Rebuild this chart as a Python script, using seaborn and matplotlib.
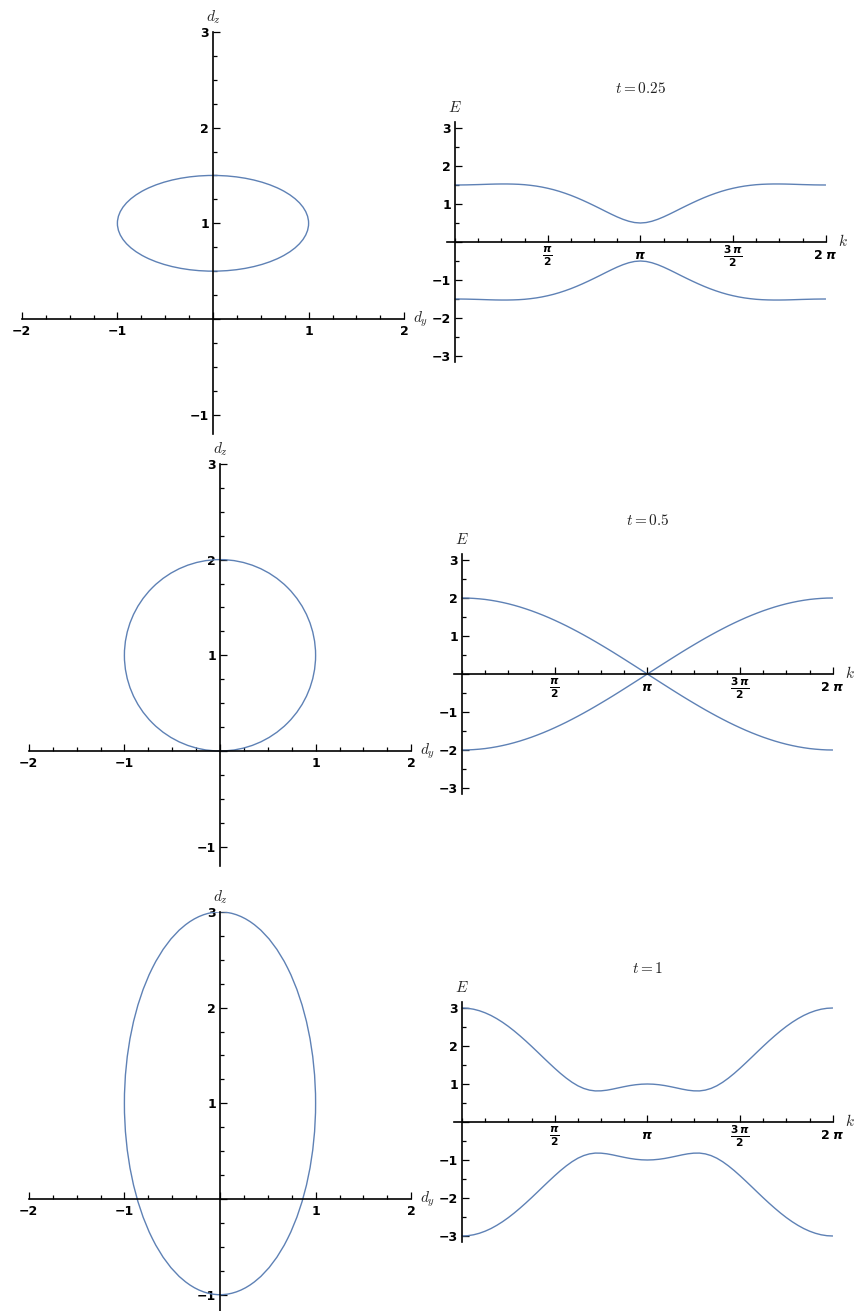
import numpy as np
import matplotlib
matplotlib.use("Agg")
import matplotlib.pyplot as plt
from matplotlib.patches import Ellipse
from matplotlib.ticker import MultipleLocator
import seaborn as sns

sns.set_style("white")
plt.rcParams['font.family'] = ['DejaVu Sans']
plt.rcParams['mathtext.fontset'] = 'dejavusans'

# hopping values shown in the titles
t_values = [0.25, 0.5, 1]

# d-vector loops (ellipses centred on d_z axis)
loop_center_dz = [1.0, 1.0, 1.0]
loop_half_dy = [1.0, 1.0, 1.0]
loop_half_dz = [0.5, 1.0, 2.0]

# upper band energy sampled at k = 0, pi/32, ..., 2 pi (lower band is its mirror)
k_grid = np.linspace(0, 2 * np.pi, 65)
E_t025 = [1.500, 1.501, 1.503, 1.507, 1.511, 1.516, 1.521, 1.525, 1.527,
          1.527, 1.524, 1.518, 1.508, 1.492, 1.472, 1.446, 1.414,
          1.377, 1.333, 1.283, 1.228, 1.167, 1.101, 1.031, 0.958,
          0.883, 0.806, 0.731, 0.660, 0.597, 0.546, 0.512, 0.500,
          0.512, 0.546, 0.597, 0.660, 0.731, 0.806, 0.883, 0.958,
          1.031, 1.101, 1.167, 1.228, 1.283, 1.333, 1.377, 1.414,
          1.446, 1.472, 1.492, 1.508, 1.518, 1.524, 1.527, 1.527,
          1.525, 1.521, 1.516, 1.511, 1.507, 1.503, 1.501, 1.500]
E_t05 = [2.000, 1.998, 1.990, 1.978, 1.962, 1.940, 1.914, 1.883, 1.848,
         1.808, 1.764, 1.715, 1.663, 1.606, 1.546, 1.482, 1.414,
         1.343, 1.269, 1.191, 1.111, 1.028, 0.943, 0.855, 0.765,
         0.674, 0.581, 0.486, 0.390, 0.293, 0.196, 0.098, 0.000,
         0.098, 0.196, 0.293, 0.390, 0.486, 0.581, 0.674, 0.765,
         0.855, 0.943, 1.028, 1.111, 1.191, 1.269, 1.343, 1.414,
         1.482, 1.546, 1.606, 1.663, 1.715, 1.764, 1.808, 1.848,
         1.883, 1.914, 1.940, 1.962, 1.978, 1.990, 1.998, 2.000]
E_t1 = [3.000, 2.992, 2.968, 2.928, 2.873, 2.804, 2.720, 2.624, 2.516,
        2.397, 2.269, 2.134, 1.993, 1.848, 1.701, 1.556, 1.414,
        1.279, 1.155, 1.045, 0.953, 0.884, 0.839, 0.818, 0.820,
        0.837, 0.865, 0.898, 0.930, 0.959, 0.981, 0.995, 1.000,
        0.995, 0.981, 0.959, 0.930, 0.898, 0.865, 0.837, 0.820,
        0.818, 0.839, 0.884, 0.953, 1.045, 1.155, 1.279, 1.414,
        1.556, 1.701, 1.848, 1.993, 2.134, 2.269, 2.397, 2.516,
        2.624, 2.720, 2.804, 2.873, 2.928, 2.968, 2.992, 3.000]
bands = [E_t025, E_t05, E_t1]

# tick labels
dy_ticks = [-2, -1, 0, 1, 2]
dy_labels = ['\u22122', '\u22121', '', '1', '2']
dz_ticks = [-1, 0, 1, 2, 3]
dz_labels = ['\u22121', '', '1', '2', '3']
k_ticks = [np.pi / 2, np.pi, 3 * np.pi / 2, 2 * np.pi]
k_labels = [r'$\frac{\mathbfit{\pi}}{\mathbf{2}}$', r'$\mathbfit{\pi}$',
            r'$\frac{\mathbf{3}\,\mathbfit{\pi}}{\mathbf{2}}$', r'$\mathbf{2}\ \mathbfit{\pi}$']
E_ticks = [-3, -2, -1, 0, 1, 2, 3]
E_labels = ['\u22123', '\u22122', '\u22121', '', '1', '2', '3']

LINE = '#5E81B5'
W, H = 857, 1311

# pixel layout: data origin and bottom limit of each loop panel
left_layout = [(213, 319, -1.2), (220, 751, -1.2), (220, 1199, -1.17)]
right_layout = [(455, 242), (462, 674), (462, 1122)]
UX_L, UY_L = 95.6, 95.7
UX_R, UY_R = 59.0, 38.0
K_LIM = (-0.13, 2 * np.pi + 0.01)
E_LIM = (-3.15, 3.15)

fig = plt.figure(figsize=(W / 100, H / 100), dpi=100)


def place(x0, y0, ux, uy, xlim, ylim):
    left = x0 + xlim[0] * ux
    right = x0 + xlim[1] * ux
    top = y0 - ylim[1] * uy
    bottom = y0 - ylim[0] * uy
    ax = fig.add_axes([left / W, 1 - bottom / H, (right - left) / W, (bottom - top) / H])
    ax.set_xlim(xlim)
    ax.set_ylim(ylim)
    return ax


def style_axes(ax):
    ax.set_facecolor('none')
    for s in ['top', 'right']:
        ax.spines[s].set_visible(False)
    for s in ['left', 'bottom']:
        ax.spines[s].set_position(('data', 0))
        ax.spines[s].set_linewidth(1.2)
        ax.spines[s].set_color('black')
    ax.tick_params(which='both', direction='in', color='black', width=0.9,
                   bottom=True, left=True, top=False, right=False)
    ax.tick_params(which='major', length=5)
    ax.tick_params(which='minor', length=3)
    ax.tick_params(axis='y', pad=3)
    ax.set_xlabel('')
    ax.set_ylabel('')


def bold_labels(labels, size=9):
    for lab in labels:
        lab.set_fontsize(size)
        lab.set_fontweight('bold')
        lab.set_color('black')


for i in range(3):
    # left: d-vector loop
    x0, y0, ybot = left_layout[i]
    ax = place(x0, y0, UX_L, UY_L, (-2, 2), (ybot, 3))
    ell = Ellipse((0, loop_center_dz[i]), 2 * loop_half_dy[i], 2 * loop_half_dz[i],
                  fill=False, ec=LINE, lw=1.0)
    ax.add_patch(ell)
    style_axes(ax)
    ax.tick_params(axis='x', pad=4)
    ax.set_xticks(dy_ticks, dy_labels)
    ax.set_yticks(dz_ticks, dz_labels)
    ax.xaxis.set_minor_locator(MultipleLocator(0.25))
    ax.yaxis.set_minor_locator(MultipleLocator(0.25))
    bold_labels(ax.get_xticklabels() + ax.get_yticklabels())
    ax.annotate(r'$d_z$', xy=(0, 3), xycoords='data', xytext=(0, 15),
                textcoords='offset pixels', ha='center', va='center',
                fontsize=11, math_fontfamily='cm')
    ax.annotate(r'$d_y$', xy=(2, 0), xycoords='data', xytext=(16, 0),
                textcoords='offset pixels', ha='center', va='center',
                fontsize=11, math_fontfamily='cm')

    # right: band structure
    x0, y0 = right_layout[i]
    ax = place(x0, y0, UX_R, UY_R, K_LIM, E_LIM)
    E_up = np.array(bands[i])
    sns.lineplot(x=k_grid, y=E_up, ax=ax, color=LINE, lw=1.0)
    sns.lineplot(x=k_grid, y=-E_up, ax=ax, color=LINE, lw=1.0)
    ax.set_xlim(K_LIM)
    ax.set_ylim(E_LIM)
    style_axes(ax)
    ax.tick_params(axis='x', pad=10)
    ax.set_xticks(k_ticks, k_labels)
    ax.set_yticks(E_ticks, E_labels)
    ax.xaxis.set_minor_locator(MultipleLocator(np.pi / 8))
    ax.yaxis.set_minor_locator(MultipleLocator(0.5))
    bold_labels(ax.get_yticklabels())
    xlabs = ax.get_xticklabels()
    for j, lab in enumerate(xlabs):
        bold_labels([lab], size=11 if j in (0, 2) else 9)
        lab.set_verticalalignment('center')
    ax.annotate(r'$E$', xy=(0, E_LIM[1]), xycoords='data', xytext=(0, 15),
                textcoords='offset pixels', ha='center', va='center',
                fontsize=11, math_fontfamily='cm')
    ax.annotate(r'$k$', xy=(K_LIM[1], 0), xycoords='data', xytext=(17, 1),
                textcoords='offset pixels', ha='center', va='center',
                fontsize=11, math_fontfamily='cm')
    ax.annotate(r'$t = %g$' % t_values[i], xy=(np.pi, E_LIM[1]), xycoords='data',
                xytext=(0, 34), textcoords='offset pixels', ha='center', va='center',
                fontsize=11, math_fontfamily='cm', color='#222222')

fig.savefig('out.png', dpi=100)
